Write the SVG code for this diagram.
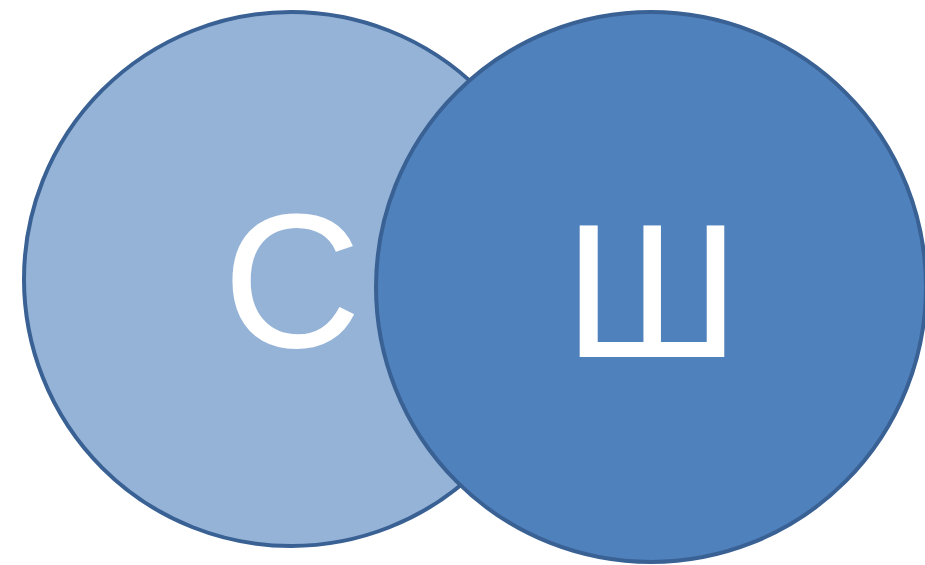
<svg xmlns="http://www.w3.org/2000/svg" width="925" height="565" viewBox="0 0 925 565">
<style>
.c{stroke:#3A6194;stroke-width:4}
.t{font-family:"Liberation Sans",Arial,sans-serif;font-size:192px;fill:#FFFFFF;text-anchor:middle}
</style>
<rect width="925" height="565" fill="#FFFFFF"/>
<g id="node-s">
<circle class="c" cx="291" cy="279" r="267" fill="#95B3D7"/>
<text class="t" x="292" y="347">С</text>
</g>
<g id="node-sh">
<circle class="c" cx="651" cy="287" r="275" fill="#4F81BD"/>
<text class="t" x="652" y="357">Ш</text>
</g>
<g id="connectors"></g>
</svg>
